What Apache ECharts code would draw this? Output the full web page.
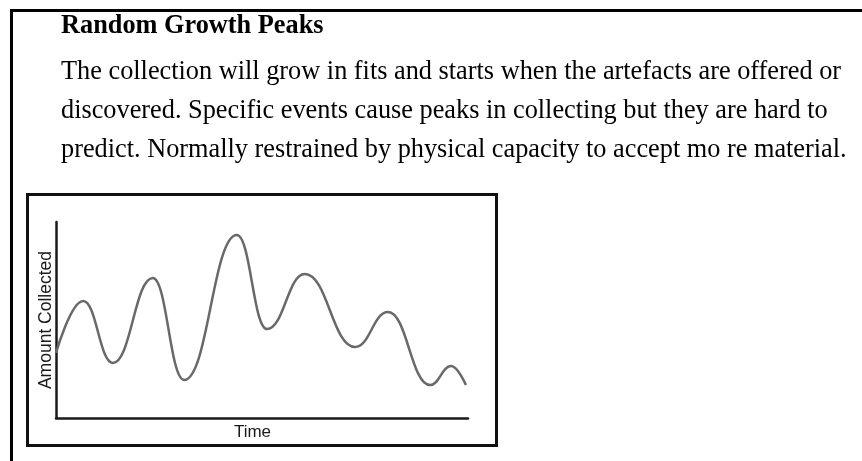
<!DOCTYPE html>
<html>
<head>
<meta charset="utf-8">
<title>Random Growth Peaks</title>
<script src="https://cdn.jsdelivr.net/npm/echarts@6/dist/echarts.min.js"></script>
<style>
    html, body { margin: 0; padding: 0; background: #fff; }
    #main { width: 862px; height: 461px; }
</style>
</head>
<body>
<div id="main"></div>
<script>
// heading and paragraph text above the chart
var headingText = "Random Growth Peaks";
var paragraphLines = [
    "The collection will grow in fits and starts when the artefacts are offered or",
    "discovered. Specific events cause peaks in collecting but they are hard to",
    "predict. Normally restrained by physical capacity to accept mo re material."
];

// curve (time 0-100, amount 0-100): start, peaks and troughs, end
var timeValues = [0, 6.6, 13.8, 23.5, 31.1, 43.9, 51.2, 60.4, 72.6, 80.6, 90.8, 95.9, 99.5];
var amountValues = [33.2, 59.7, 28.1, 71.4, 19.4, 93.4, 45.4, 73.5, 36.2, 54.1, 16.8, 26.5, 16.8];

var xName = "Time";
var yName = "Amount Collected";

var curveData = [];
for (var i = 0; i < timeValues.length; i++) {
    curveData.push([timeValues[i], amountValues[i]]);
}

var textItems = [];
textItems.push({
    type: 'text', left: 61, top: 13,
    style: { text: headingText, font: 'bold 26.3px "Liberation Serif", serif', fill: '#000' }
});
for (var j = 0; j < paragraphLines.length; j++) {
    textItems.push({
        type: 'text', left: 61, top: 59 + j * 39,
        style: { text: paragraphLines[j], font: '26.3px "Liberation Serif", serif', fill: '#000' }
    });
}

var myChart = echarts.init(document.getElementById('main'));
myChart.setOption({
    animation: false,
    backgroundColor: '#fff',
    grid: { left: 56, top: 222, width: 412, height: 196 },
    xAxis: {
        type: 'value', min: 0, max: 100,
        name: xName, nameLocation: 'middle', nameGap: 6,
        nameTextStyle: { fontFamily: '"Liberation Sans", Arial', fontSize: 17, color: '#1a1a1a', padding: [0, 19, 0, 0] },
        axisLine: { show: true, lineStyle: { color: '#1a1a1a', width: 2.5 } },
        axisTick: { show: false }, axisLabel: { show: false }, splitLine: { show: false }
    },
    yAxis: {
        type: 'value', min: 0, max: 100,
        name: yName, nameLocation: 'middle', nameGap: 1, nameRotate: 90,
        nameTextStyle: { fontFamily: '"Liberation Sans", Arial', fontSize: 17.5, color: '#1a1a1a' },
        axisLine: { show: true, lineStyle: { color: '#1a1a1a', width: 2.5 } },
        axisTick: { show: false }, axisLabel: { show: false }, splitLine: { show: false }
    },
    series: [
        {
            type: 'line',
            data: curveData,
            smooth: 0.45,
            smoothMonotone: 'x',
            showSymbol: false,
            lineStyle: { color: '#696969', width: 2.5 }
        }
    ],
    graphic: [
        // outer cell border (top and left)
        { type: 'line', shape: { x1: 10, y1: 10.5, x2: 862, y2: 10.5 }, style: { stroke: '#000', lineWidth: 3 } },
        { type: 'line', shape: { x1: 11.5, y1: 9, x2: 11.5, y2: 461 }, style: { stroke: '#000', lineWidth: 3 } },
        // frame round the chart
        { type: 'rect', shape: { x: 27.5, y: 194.5, width: 469, height: 251 }, style: { fill: 'none', stroke: '#111', lineWidth: 3 } }
    ].concat(textItems)
});
</script>
</body>
</html>
